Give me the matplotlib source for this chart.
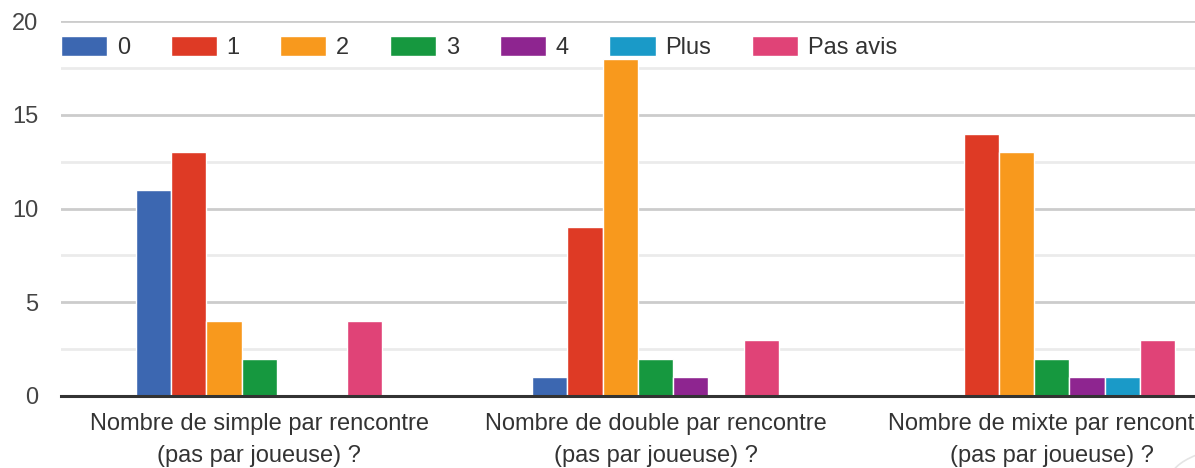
import matplotlib
matplotlib.use("Agg")
import matplotlib.pyplot as plt
import numpy as np
from matplotlib.patches import Circle

categories = ["Nombre de simple par rencontre\n(pas par joueuse) ?",
              "Nombre de double par rencontre\n(pas par joueuse) ?",
              "Nombre de mixte par rencontre\n(pas par joueuse) ?"]
series_names = ["0", "1", "2", "3", "4", "Plus", "Pas avis"]
s0 = [11, 1, 0]
s1 = [13, 9, 14]
s2 = [4, 18, 13]
s3 = [2, 2, 2]
s4 = [0, 1, 1]
s_plus = [0, 0, 1]
s_pas_avis = [4, 3, 3]
series = [s0, s1, s2, s3, s4, s_plus, s_pas_avis]
colors = ["#3c67b1", "#de3a25", "#f8991d", "#16983f", "#8e2590", "#1a9ac8", "#e04377"]

plt.rcParams['font.family'] = ['Liberation Sans', 'DejaVu Sans']

W, H = 1195, 468
fig = plt.figure(figsize=(W/100, H/100), dpi=100)
left, right = 61, 1250
top, bottom = 21, 396
ax = fig.add_axes([left/W, 1 - bottom/H, (right-left)/W, (bottom-top)/H])

x = np.arange(len(categories))
n = len(series)
slot = 35.2 / 396
for i, (vals, c, name) in enumerate(zip(series, colors, series_names)):
    off = (i - (n-1)/2) * slot
    ax.bar(x + off, vals, width=slot, color=c, edgecolor="white", linewidth=1.0, label=name, zorder=3)

fs = 17
ax.set_xlim(-0.5, len(categories) - 0.5)
ax.set_ylim(0, 20)
ax.set_yticks([0, 5, 10, 15, 20])
ax.set_yticks([2.5, 7.5, 12.5, 17.5], minor=True)
ax.grid(axis='y', which='major', color='#cccccc', linewidth=2.0, zorder=0)
ax.grid(axis='y', which='minor', color='#ebebeb', linewidth=2.0, zorder=0)
ax.tick_params(axis='y', which='both', length=0, pad=16.5, labelsize=fs, labelcolor='#444444')
ax.tick_params(axis='x', length=0, pad=12, labelsize=fs, labelcolor='#333333')
ax.set_xticks(x)
ax.set_xticklabels(categories, linespacing=1.62)
for sp in ["top", "right", "left"]:
    ax.spines[sp].set_visible(False)
ax.spines["bottom"].set_color("#333333")
ax.spines["bottom"].set_linewidth(2.2)
ax.spines["bottom"].set_zorder(5)

leg = ax.legend(ncol=7, loc="upper left", bbox_to_anchor=(0, 1 - 15/375), frameon=False,
                fontsize=fs, handlelength=1.95, handleheight=0.93, handletextpad=0.42,
                columnspacing=1.72, borderaxespad=0, borderpad=0)
for t in leg.get_texts():
    t.set_color('#333333')

circ = Circle((1260/W, 1 - 480/H), 90/W, transform=fig.transFigure, facecolor="white",
              edgecolor="#e4e4e4", linewidth=1.2, zorder=10)
fig.patches.append(circ)

fig.savefig("out.png", dpi=100)
